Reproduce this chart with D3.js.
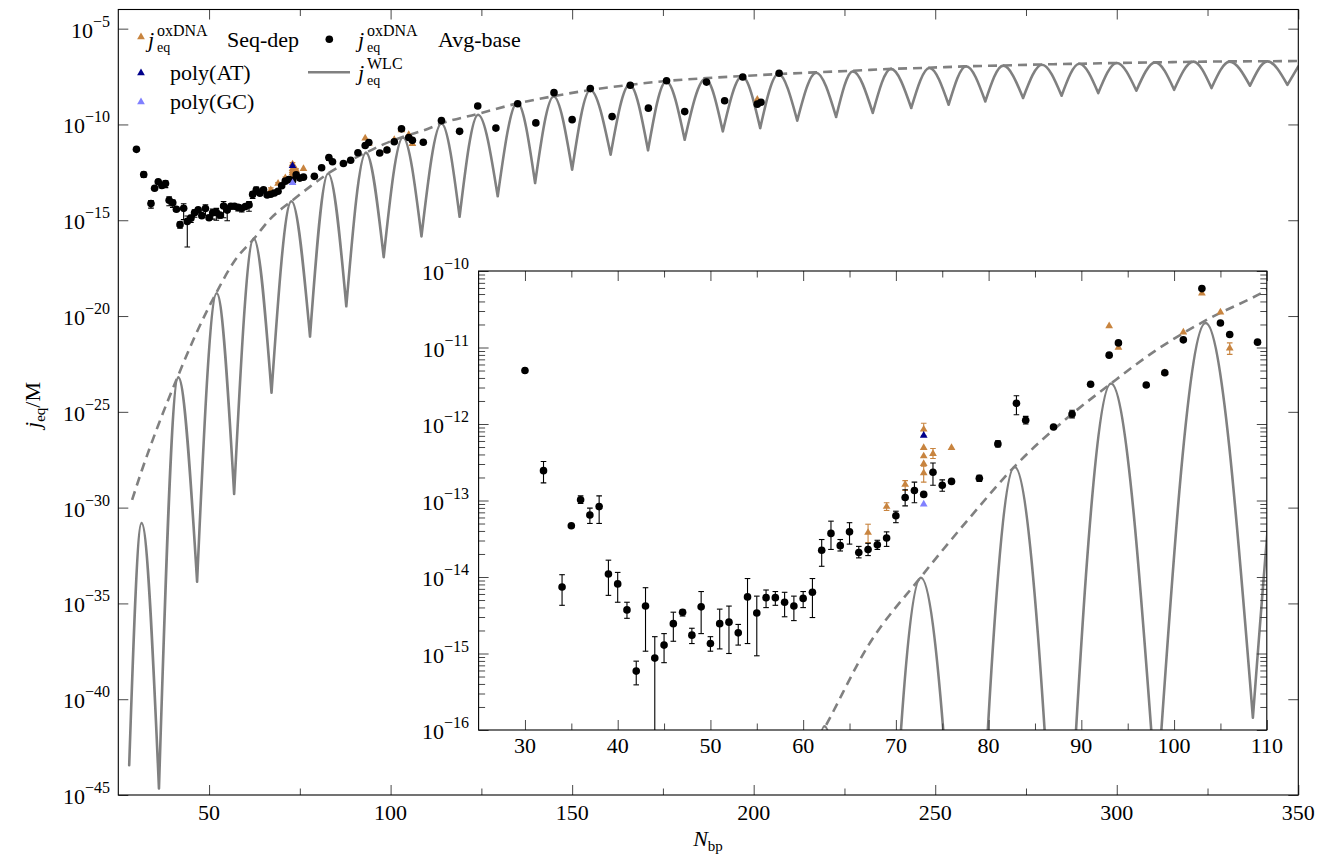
<!DOCTYPE html>
<html>
<head>
<meta charset="utf-8">
<script src="https://cdn.jsdelivr.net/npm/d3@7"></script>
<style>
  body { margin: 0; background: #fff; }
  text { font-family: "Liberation Serif", "Times New Roman", serif; fill: #000; }
</style>
</head>
<body>
<svg id="chart" width="1330" height="858"></svg>
<script>
// ---- DATA (values are base-10 exponents of j_eq / M) ----

// oxDNA average-base: N, value, error bar low / high (null = no bar)
const avgN = [30, 32, 34, 35, 36, 37, 38, 39, 40, 41, 42, 43, 44, 45, 46, 47, 48, 49, 50, 51,
  52, 53, 54, 55, 56, 57, 58, 59, 60, 61, 62, 63, 64, 65, 66, 67, 68, 69, 70, 71,
  72, 73, 74, 75, 76, 79, 81, 83, 84, 87, 89, 91, 93, 94, 97, 99, 101, 103, 105, 106,
  109, 114, 119, 124, 129, 135, 140, 145, 150, 155, 161, 166, 171, 176, 181, 187, 192, 197, 201, 202, 207];
const avgExp = [-11.30, -12.61, -14.13, -13.33, -12.99, -13.19, -13.08, -13.96, -14.09, -14.43,
  -15.23, -14.38, -15.06, -14.89, -14.61, -14.46, -14.76, -14.39, -14.87, -14.61,
  -14.59, -14.73, -14.26, -14.47, -14.27, -14.27, -14.33, -14.38, -14.28, -14.20,
  -13.65, -13.43, -13.59, -13.41, -13.68, -13.64, -13.58, -13.49, -13.20, -12.96,
  -12.87, -12.92, -12.63, -12.80, -12.75, -12.71, -12.26, -11.73, -11.95, -12.04,
  -11.87, -11.48, -11.10, -10.94, -11.49, -11.33, -10.90, -10.23, -10.68, -10.83,
  -10.93, -9.80, -10.36, -9.04, -10.19, -8.92, -9.92, -8.34, -9.75, -8.13,
  -9.59, -7.95, -9.15, -7.72, -9.33, -7.79, -8.76, -7.52, -8.94, -8.84, -7.33];
const avgLo = [null, -12.77, -14.37, null, -13.04, -13.30, -13.30, -14.24, -14.33, -14.54,
  -15.41, -14.97, -16.40, -15.12, -14.84, -14.51, -14.87, -14.74, -14.97, -14.94,
  -15.00, -14.89, -14.87, -15.03, -14.40, -14.37, -14.52, -14.57, -14.40, -14.53,
  -13.86, -13.64, -13.66, -13.57, -13.75, -13.72, -13.64, -13.60, -13.29, -13.07,
  -13.03, null, -12.80, -12.88, null, -12.75, -12.30, -11.88, -12.00, null,
  -11.92, null, null, null, null, null, null, null, null, null,
  null, null, null, null, null, null, null, null, null, null,
  null, null, null, null, null, null, null, null, null, null, null];
const avgHi = [null, -12.49, -13.97, null, -12.94, -13.10, -12.94, -13.78, -13.94, -14.33,
  -15.10, -14.14, -14.78, -14.74, -14.46, -14.43, -14.67, -14.19, -14.78, -14.42,
  -14.38, -14.62, -14.02, -14.25, -14.17, -14.19, -14.20, -14.25, -14.19, -14.02,
  -13.51, -13.27, -13.51, -13.29, -13.60, -13.56, -13.52, -13.41, -13.14, -12.86,
  -12.76, null, -12.51, -12.73, null, -12.67, -12.22, -11.63, -11.90, null,
  -11.82, null, null, null, null, null, null, null, null, null,
  null, null, null, null, null, null, null, null, null, null,
  null, null, null, null, null, null, null, null, null, null, null];

// oxDNA sequence-dependent
const seqN = [67, 69, 71, 73, 73, 73, 73, 73, 74, 76, 93, 94, 99, 101, 103, 105, 106, 201];
const seqExp = [-13.42, -13.08, -12.79, -12.07, -12.31, -12.42, -12.52, -12.64, -12.39, -12.31,
  -10.72, -11.00, -11.33, -10.80, -10.29, -10.54, -11.01, -8.70];
const seqLo = [-13.55, -13.13, -12.87, -12.15, null, null, null, -12.76, -12.45, null,
  null, null, null, null, null, null, -11.09, null];
const seqHi = [-13.31, -13.03, -12.74, -11.99, null, null, null, -12.55, -12.32, null,
  null, null, null, null, null, null, -10.94, null];

// homopolymer sequences
const polyATN = [73], polyATExp = [-12.15];
const polyGCN = [73], polyGCExp = [-13.05];

// WLC prediction: start, alternating peaks and troughs, end
const wlcN = [28.0, 31.4, 36.2, 41.5, 46.7, 52.1, 56.9, 62.3, 67.2, 72.7, 77.8, 82.8, 87.8, 93.2,
  98.1, 103.4, 108.5, 114.0, 119.0, 124.1, 129.5, 134.9, 139.8, 144.9, 150.0, 155.0, 160.6,
  165.8, 170.9, 175.9, 181.0, 186.7, 191.5, 196.8, 201.8, 206.8, 212.0, 217.2, 222.7, 227.3,
  232.8, 237.8, 243.4, 248.4, 253.7, 258.5, 263.8, 268.7, 274.2, 279.4, 284.8, 289.7, 294.9,
  300.0, 305.4, 310.6, 315.8, 321.1, 326.1, 331.1, 336.7, 341.5, 347.0, 350.0];
const wlcExp = [-43.45, -30.80, -44.66, -23.20, -33.86, -18.81, -29.28, -15.95, -24.00, -14.01,
  -21.07, -12.56, -19.49, -11.47, -16.93, -10.68, -15.84, -9.95, -14.82, -9.49, -13.75,
  -8.86, -13.06, -8.54, -12.36, -8.20, -11.58, -7.92, -11.35, -7.75, -10.80, -7.62, -10.36,
  -7.49, -10.19, -7.37, -9.80, -7.30, -9.61, -7.23, -9.40, -7.10, -9.14, -7.05, -8.97,
  -6.96, -8.80, -6.93, -8.62, -6.88, -8.50, -6.83, -8.36, -6.79, -8.24, -6.76, -8.19,
  -6.72, -8.10, -6.72, -7.98, -6.71, -7.93, -6.97];

// WLC envelope (dashed)
const envN = [28.8, 31.4, 36, 41.5, 46, 52, 57, 62.5, 67, 72.7, 78, 83, 88, 93.2, 98, 103.5, 110, 114,
  124, 135, 145, 155, 166, 176, 187, 197, 207, 217, 227, 238, 248, 258, 269, 279, 290, 300,
  311, 321, 331, 341, 350];
const envExp = [-29.6, -28.1, -25.7, -23.1, -21.1, -18.78, -17.13, -15.93, -14.9, -14.0, -13.22, -12.53,
  -11.97, -11.47, -11.04, -10.64, -10.25, -9.95, -9.45, -8.9, -8.52, -8.2, -7.93, -7.73, -7.58,
  -7.47, -7.37, -7.28, -7.2, -7.1, -7.04, -6.97, -6.92, -6.87, -6.83, -6.79, -6.76, -6.73,
  -6.71, -6.70, -6.69];

// tick values
const mainXMajor = [50, 100, 150, 200, 250, 300, 350];
const mainXMinor = [75, 125, 175, 225, 275, 325];
const mainYExp = [-5, -10, -15, -20, -25, -30, -35, -40, -45];
const insetXMajor = [30, 40, 50, 60, 70, 80, 90, 100, 110];
const insetXMinor = [35, 45, 55, 65, 75, 85, 95, 105];
const insetYExp = [-10, -11, -12, -13, -14, -15, -16];

// ---- COLOURS ----
const cSeq = "#c8843f", cAT = "#00008b", cGC = "#8080ff", cWlc = "#808080";

// ---- PREP ----
const p10 = e => Math.pow(10, e);
const rows = (ns, es, lo, hi) => ns.map((n, i) => ({
  n, v: p10(es[i]),
  lo: lo && lo[i] != null ? p10(lo[i]) : null,
  hi: hi && hi[i] != null ? p10(hi[i]) : null
}));
const avg = rows(avgN, avgExp, avgLo, avgHi);
const seq = rows(seqN, seqExp, seqLo, seqHi);
const polyAT = rows(polyATN, polyATExp);
const polyGC = rows(polyGCN, polyGCExp);
const wlc = rows(wlcN, wlcExp);
const env = rows(envN, envExp);

const svg = d3.select("#chart");

// main panel
const x = d3.scaleLinear().domain([25, 350]).range([118.3, 1298.3]);
const y = d3.scaleLog().domain([1e-45, 1e-4]).range([795, 9.5]);
// inset panel
const ix = d3.scaleLinear().domain([25, 110]).range([478.6, 1266.8]);
const iy = d3.scaleLog().domain([1e-16, 1e-10]).range([730, 271]);

const defs = svg.append("defs");
function clip(id, sx, sy) {
  defs.append("clipPath").attr("id", id).append("rect")
    .attr("x", sx.range()[0]).attr("y", sy.range()[1])
    .attr("width", sx.range()[1] - sx.range()[0])
    .attr("height", sy.range()[0] - sy.range()[1]);
}
clip("clipMain", x, y);
clip("clipInset", ix, iy);

function drawData(g, sx, sy) {
  const line = d3.line().x(d => sx(d.n)).y(d => sy(d.v)).curve(d3.curveMonotoneX);

  // WLC curve, split at troughs so the minima stay sharp
  let path = "", seg = [wlc[0]];
  for (let i = 1; i < wlc.length; i++) {
    seg.push(wlc[i]);
    const trough = i < wlc.length - 1 && wlc[i].v < wlc[i - 1].v && wlc[i].v < wlc[i + 1].v;
    if (trough) { path += line(seg); seg = [wlc[i]]; }
  }
  path += line(seg);
  g.append("path").attr("d", path)
    .attr("fill", "none").attr("stroke", cWlc).attr("stroke-width", 2.6)
    .attr("stroke-linecap", "round").attr("stroke-linejoin", "round");

  // envelope
  g.append("path").datum(env).attr("d", line)
    .attr("fill", "none").attr("stroke", cWlc).attr("stroke-width", 2.6)
    .attr("stroke-dasharray", "9,6");

  // error bars
  function bars(data, color) {
    const eb = g.append("g").attr("stroke", color).attr("stroke-width", 1.1);
    data.filter(d => d.lo != null).forEach(d => {
      const cx = sx(d.n);
      eb.append("line").attr("x1", cx).attr("x2", cx).attr("y1", sy(d.lo)).attr("y2", sy(d.hi));
      eb.append("line").attr("x1", cx - 2.8).attr("x2", cx + 2.8).attr("y1", sy(d.lo)).attr("y2", sy(d.lo));
      eb.append("line").attr("x1", cx - 2.8).attr("x2", cx + 2.8).attr("y1", sy(d.hi)).attr("y2", sy(d.hi));
    });
  }
  const tri = d3.symbol().type(d3.symbolTriangle).size(26);
  function triangles(data, color) {
    g.append("g").selectAll("path").data(data).enter().append("path")
      .attr("d", tri).attr("fill", color)
      .attr("transform", d => `translate(${sx(d.n)},${sy(d.v)})`);
  }

  bars(seq, cSeq);
  triangles(seq, cSeq);
  bars(avg, "#000");
  g.append("g").selectAll("circle").data(avg).enter().append("circle")
    .attr("cx", d => sx(d.n)).attr("cy", d => sy(d.v)).attr("r", 3.8).attr("fill", "#000");
  triangles(polyGC, cGC);
  triangles(polyAT, cAT);
}

function drawTicks(sx, sy, xMajor, xMinor, yMajor, yMinor) {
  const gt = svg.append("g").attr("color", "#333");
  const left = sx.range()[0], right = sx.range()[1];
  const top = sy.range()[1], bottom = sy.range()[0];
  const axes = [
    [d3.axisBottom, `translate(0,${bottom})`, sx, "x"],
    [d3.axisTop, `translate(0,${top})`, sx, "x"],
    [d3.axisLeft, `translate(${left},0)`, sy, "y"],
    [d3.axisRight, `translate(${right},0)`, sy, "y"]
  ];
  axes.forEach(([fn, tr, sc, dim]) => {
    const maj = dim === "x" ? xMajor : yMajor;
    const min = dim === "x" ? xMinor : yMinor;
    [[maj, -10], [min, -6.5]].forEach(([vals, len]) => {
      if (!vals.length) return;
      const a = gt.append("g").attr("transform", tr)
        .call(fn(sc).tickValues(vals).tickSize(len).tickFormat(""));
      a.select(".domain").remove();
      a.selectAll("line").attr("stroke-width", 0.9);
    });
  });
  svg.append("rect").attr("x", left).attr("y", top)
    .attr("width", right - left).attr("height", bottom - top)
    .attr("fill", "none").attr("stroke", "#000").attr("stroke-width", 1.1);
}

function powLabel(g, xr, yc, exp) {
  const t = g.append("text").attr("x", xr).attr("y", yc + 9)
    .attr("text-anchor", "end").attr("font-size", 22);
  t.append("tspan").text("10");
  t.append("tspan").attr("dy", -11).attr("font-size", 16).text("\u2212" + Math.abs(exp));
}

// ---- MAIN PANEL ----
const gMain = svg.append("g").attr("clip-path", "url(#clipMain)");
drawData(gMain, x, y);
drawTicks(x, y, mainXMajor, mainXMinor, mainYExp.map(p10), []);

const labels = svg.append("g");
mainXMajor.forEach(v => labels.append("text").attr("x", x(v)).attr("y", 820)
  .attr("text-anchor", "middle").attr("font-size", 22).text(v));
mainYExp.forEach(e => powLabel(labels, 110, y(p10(e)), e));

// axis titles
const xt = labels.append("text").attr("x", 708).attr("y", 846)
  .attr("text-anchor", "middle").attr("font-size", 22);
xt.append("tspan").attr("font-style", "italic").text("N");
xt.append("tspan").attr("font-size", 15).attr("dy", 5).text("bp");

const yt = labels.append("text").attr("transform", "translate(40,405) rotate(-90)")
  .attr("text-anchor", "middle").attr("font-size", 22);
yt.append("tspan").attr("font-style", "italic").text("j");
yt.append("tspan").attr("font-size", 15).attr("dy", 5).text("eq");
yt.append("tspan").attr("dy", -5).text("/M");

// ---- LEGEND ----
const leg = svg.append("g");
function jLabel(x0, yb, sup, rest, restX) {
  const t = leg.append("text").attr("y", yb).attr("font-size", 22);
  t.append("tspan").attr("x", x0).attr("font-style", "italic").text("j");
  t.append("tspan").attr("x", x0 + 9).attr("y", yb - 11).attr("font-size", 16).text(sup);
  t.append("tspan").attr("x", x0 + 9).attr("y", yb + 5).attr("font-size", 14).text("eq");
  if (rest) t.append("tspan").attr("x", restX).attr("y", yb).text(rest);
}
const legTri = d3.symbol().type(d3.symbolTriangle).size(26);
[[cSeq, 37], [cAT, 73], [cGC, 102]].forEach(([c, yy]) =>
  leg.append("path").attr("d", legTri).attr("fill", c).attr("transform", `translate(141,${yy})`));
jLabel(148, 47, "oxDNA", "Seq-dep", 227);
leg.append("text").attr("x", 170).attr("y", 80).attr("font-size", 22).text("poly(AT)");
leg.append("text").attr("x", 170).attr("y", 109).attr("font-size", 22).text("poly(GC)");
leg.append("circle").attr("cx", 329.3).attr("cy", 39.3).attr("r", 3.8).attr("fill", "#000");
jLabel(358, 47, "oxDNA", "Avg-base", 438);
leg.append("line").attr("x1", 308).attr("x2", 350).attr("y1", 72.3).attr("y2", 72.3)
  .attr("stroke", cWlc).attr("stroke-width", 2.6);
jLabel(358, 80, "WLC");

// ---- INSET ----
svg.append("rect").attr("x", ix.range()[0]).attr("y", iy.range()[1])
  .attr("width", ix.range()[1] - ix.range()[0]).attr("height", iy.range()[0] - iy.range()[1])
  .attr("fill", "#fff");
const gInset = svg.append("g").attr("clip-path", "url(#clipInset)");
drawData(gInset, ix, iy);
const insetMinorY = [];
insetYExp.slice(1).forEach(e => d3.range(2, 10).forEach(m => insetMinorY.push(m * p10(e))));
drawTicks(ix, iy, insetXMajor, insetXMinor, insetYExp.map(p10), insetMinorY);
insetXMajor.forEach(v => labels.append("text").attr("x", ix(v)).attr("y", 753)
  .attr("text-anchor", "middle").attr("font-size", 22).text(v));
insetYExp.forEach(e => powLabel(svg, 469, iy(p10(e)), e));
</script>
</body>
</html>
